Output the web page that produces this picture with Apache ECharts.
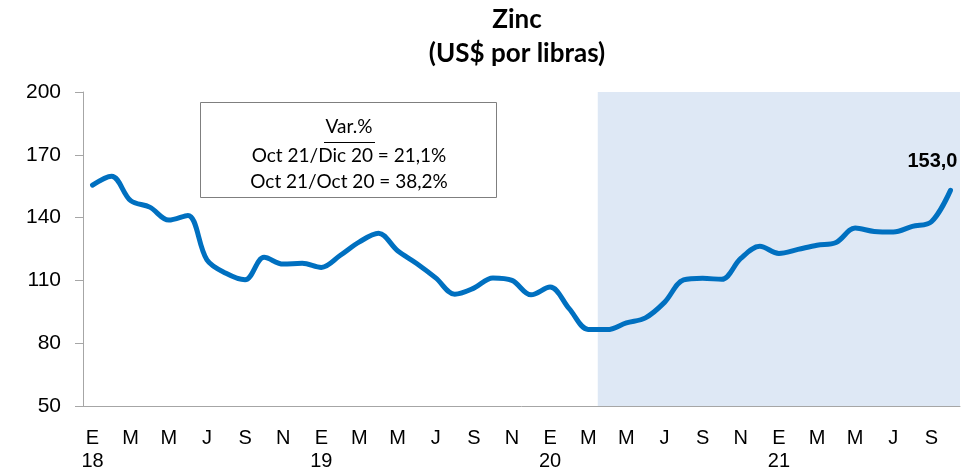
<!DOCTYPE html>
<html>
<head>
<meta charset="utf-8">
<script src="https://cdn.jsdelivr.net/npm/echarts@6/dist/echarts.min.js"></script>
<style>
  html, body { margin: 0; padding: 0; background: #fff; }
  #chart { width: 974px; height: 473px; }
</style>
</head>
<body>
<div id="chart"></div>
<script>
// meses (iniciales) y años del eje
var mesesIni = ['E', 'F', 'M', 'A', 'M', 'J', 'J', 'A', 'S', 'O', 'N', 'D'];
var mesesAbr = ['Ene', 'Feb', 'Mar', 'Abr', 'May', 'Jun', 'Jul', 'Ago', 'Sep', 'Oct', 'Nov', 'Dic'];
var anios = ['18', '19', '20', '21'];

// precio del zinc, ene-18 a oct-21 (US$ cents por libra)
var zinc = [
  155.5, 159.8, 148.1, 145.0, 138.8, 141.0, 119.8, 113.4, 110.3, 121.0, 117.8, 118.2,
  116.2, 122.0, 128.4, 132.5, 124.2, 118.1, 111.2, 103.4, 106.3, 111.2, 110.0, 103.1,
  106.8, 96.5, 86.6, 86.5, 89.7, 92.1, 99.5, 110.2, 111.0, 110.5, 120.5, 126.3,
  122.9, 124.8, 126.8, 128.1, 135.0, 133.4, 133.1, 135.8, 138.0, 153.0
];

var yTicks = { min: 50, max: 200, step: 30 };
var inicioSombra = 'Abr 20';
var notaVar = ['Var.%', 'Oct 21/Dic 20 = 21,1%', 'Oct 21/Oct 20 = 38,2%'];

var fuenteEje = '"Liberation Sans", Arial, sans-serif';

var categorias = [];
anios.forEach(function (a) {
  mesesAbr.forEach(function (m) { categorias.push(m + ' ' + a); });
});
categorias = categorias.slice(0, zinc.length);

var chart = echarts.init(document.getElementById('chart'));

var ultimo = zinc.length - 1;
var serieData = zinc.map(function (v, i) {
  if (i !== ultimo) return v;
  return {
    value: v,
    label: {
      show: true,
      position: 'top',
      align: 'right',
      distance: 18,
      fontFamily: fuenteEje,
      fontWeight: 'bold',
      fontSize: 20,
      color: '#000',
      formatter: function (p) { return p.value.toFixed(1).replace('.', ','); }
    }
  };
});

var textoNota = function (txt, y) {
  return {
    type: 'text',
    x: 349, y: y,
    style: {
      text: txt, fontFamily: 'Lato', fontSize: 19, fill: '#000',
      align: 'center', verticalAlign: 'middle'
    },
    z: 11
  };
};

chart.setOption({
  animation: false,
  title: {
    text: 'Zinc\n(US$ por libras)',
    left: 512,
    textAlign: 'center',
    top: -2,
    textStyle: {
      fontFamily: 'Lato',
      fontWeight: 'bold',
      fontSize: 26,
      lineHeight: 34,
      color: '#000'
    }
  },
  grid: { left: 83, right: 14, top: 92, bottom: 64 },
  xAxis: [{
    type: 'category',
    data: categorias,
    boundaryGap: true,
    axisLine: { lineStyle: { color: '#a6a6a6', width: 1 } },
    axisTick: { show: false },
    axisLabel: {
      interval: 1,
      margin: 21,
      fontFamily: fuenteEje,
      fontSize: 20,
      lineHeight: 23,
      color: '#000',
      formatter: function (val, idx) {
        var m = idx % 12;
        var txt = '{t|' + mesesIni[m] + '}';
        if (m === 0) txt += '\n{t|' + anios[Math.floor(idx / 12)] + '}';
        return txt;
      },
      rich: {
        t: { fontFamily: fuenteEje, fontSize: 20, lineHeight: 23, color: '#000' }
      }
    }
  }, {
    type: 'value',
    min: 0,
    max: categorias.length,
    show: false
  }],
  yAxis: {
    type: 'value',
    min: yTicks.min,
    max: yTicks.max,
    interval: yTicks.step,
    splitLine: { show: false },
    axisLine: { show: true, lineStyle: { color: '#a6a6a6', width: 1 } },
    axisTick: { show: true, length: 8, lineStyle: { color: '#a6a6a6' } },
    axisLabel: {
      margin: 22,
      fontFamily: fuenteEje,
      fontSize: 21,
      color: '#000',
      formatter: function (v) { return '{v|' + v + '}'; },
      rich: {
        v: { fontFamily: fuenteEje, fontSize: 21, color: '#000' }
      }
    }
  },
  graphic: [
    {
      type: 'rect',
      shape: { x: 200.5, y: 102.5, width: 296, height: 95 },
      style: { fill: '#fff', stroke: '#7f7f7f', lineWidth: 1 },
      z: 10
    },
    textoNota(notaVar[0], 127),
    {
      type: 'line',
      shape: { x1: 324, y1: 142.5, x2: 375, y2: 142.5 },
      style: { stroke: '#000', lineWidth: 1 },
      z: 11
    },
    textoNota(notaVar[1], 156),
    textoNota(notaVar[2], 182)
  ],
  series: [
    {
      // solo para la zona sombreada (abr-20 en adelante)
      type: 'line',
      xAxisIndex: 1,
      data: [],
      silent: true,
      markArea: {
        silent: true,
        itemStyle: { color: '#dee8f5' },
        data: [[
          { xAxis: categorias.indexOf(inicioSombra) },
          { xAxis: categorias.length }
        ]]
      }
    },
    {
      name: 'Zinc',
      type: 'line',
      data: serieData,
      smooth: 0.35,
      showSymbol: true,
      symbol: 'circle',
      symbolSize: 1,
      lineStyle: { color: '#0070c0', width: 5, cap: 'round', join: 'round' },
      itemStyle: { color: '#0070c0' },
      labelLayout: { hideOverlap: false, dx: 7 },
      z: 5
    }
  ]
});
</script>
</body>
</html>
